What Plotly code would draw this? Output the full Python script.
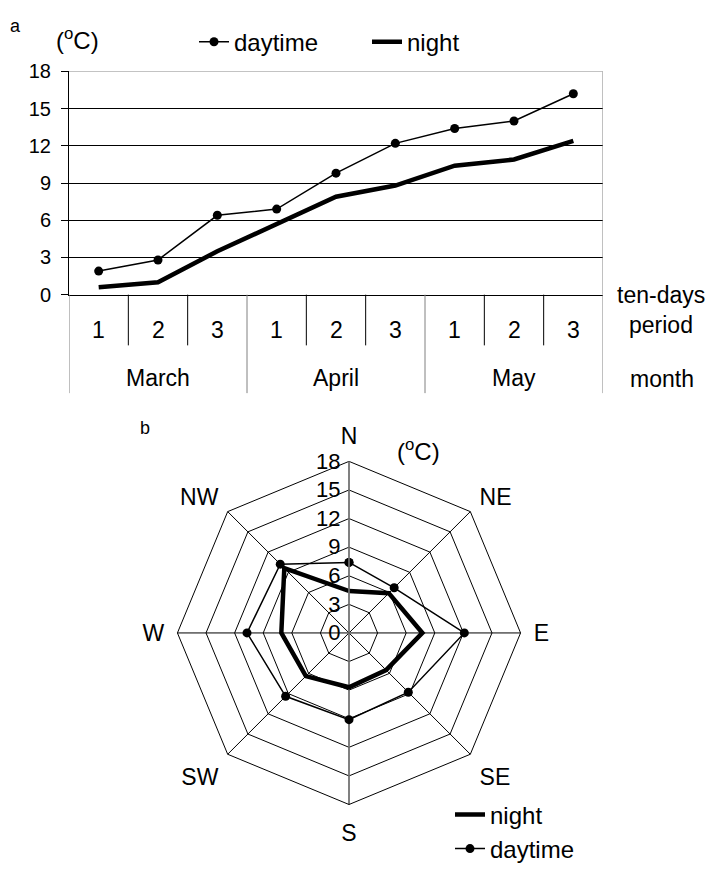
import plotly.graph_objects as go

W, H = 712, 874
FONT = "Arial, 'Liberation Sans', sans-serif"

# ---- data: panel a ----
months = ["March", "April", "May"]
periods = ["1", "2", "3", "1", "2", "3", "1", "2", "3"]
daytime = [1.9, 2.8, 6.4, 6.9, 9.8, 12.2, 13.4, 14.0, 16.2]
night = [0.6, 1.0, 3.5, 5.7, 7.9, 8.8, 10.4, 10.9, 12.4]
y_ticks = [0, 3, 6, 9, 12, 15, 18]

# ---- data: panel b ----
directions = ["N", "NE", "E", "SE", "S", "SW", "W", "NW"]
day_dir = [7.4, 6.7, 12.1, 8.8, 9.1, 9.4, 10.7, 10.2]
night_dir = [4.4, 5.9, 7.7, 5.5, 5.7, 6.4, 7.1, 9.6]
r_ticks = [0, 3, 6, 9, 12, 15, 18]


def py(p):
    return 1 - p / H


def px(p):
    return p / W


xpos = list(range(len(periods)))

fig = go.Figure()
fig.add_trace(go.Scatter(
    x=xpos, y=daytime, name="daytime", mode="lines+markers",
    line=dict(color="black", width=1.5), marker=dict(color="black", size=9),
    legend="legend"))
fig.add_trace(go.Scatter(
    x=xpos, y=night, name="night", mode="lines",
    line=dict(color="black", width=4.5), legend="legend"))

closed_dirs = directions + directions[:1]
fig.add_trace(go.Scatterpolar(
    r=[0, r_ticks[-1]], theta=["S", "S"], mode="lines",
    line=dict(color="#808080", width=1.5), showlegend=False, hoverinfo="skip"))
fig.add_trace(go.Scatterpolar(
    r=day_dir + day_dir[:1], theta=closed_dirs, name="daytime",
    mode="lines+markers", line=dict(color="black", width=1.5),
    marker=dict(color="black", size=9), legend="legend2"))
fig.add_trace(go.Scatterpolar(
    r=night_dir + night_dir[:1], theta=closed_dirs, name="night",
    mode="lines", line=dict(color="black", width=4.5), legend="legend2"))

n = len(periods)
fig.update_layout(
    width=W, height=H, margin=dict(l=0, r=0, t=0, b=0),
    paper_bgcolor="white", plot_bgcolor="white",
    font=dict(family=FONT, color="black", size=23),
    xaxis=dict(domain=[px(69), px(603)], range=[-0.5, n - 0.5],
               showticklabels=False, ticks="", showgrid=False, zeroline=False,
               showline=True, linecolor="black", linewidth=1),
    yaxis=dict(domain=[py(291), py(62)], range=[0, 18], tickvals=y_ticks,
               ticks="outside", ticklen=7, tickcolor="black",
               ticklabelstandoff=6,
               tickfont=dict(size=20), showgrid=True, gridcolor="black",
               gridwidth=1, zeroline=False, showline=True, linecolor="black",
               linewidth=1),
    legend=dict(orientation="h", x=px(194), xanchor="left", y=py(32),
                yanchor="middle", font=dict(size=24), entrywidth=128,
                bgcolor="rgba(0,0,0,0)"),
    legend2=dict(orientation="v", x=px(450), xanchor="left", y=py(842),
                 yanchor="middle", font=dict(size=24), traceorder="reversed",
                 bgcolor="rgba(0,0,0,0)"),
    polar=dict(
        domain=dict(x=[px(173), px(525)], y=[py(814), py(462)]),
        gridshape="linear", bgcolor="white",
        radialaxis=dict(range=[0, 18], tickvals=r_ticks, angle=90,
                        tickangle=90, side="counterclockwise",
                        showline=True, linecolor="#808080", linewidth=1.5,
                        gridcolor="black", gridwidth=1, ticks="",
                        tickfont=dict(size=22)),
        angularaxis=dict(direction="clockwise", rotation=90,
                         categoryarray=directions, categoryorder="array",
                         showline=True, linecolor="black", linewidth=1,
                         gridcolor="black", gridwidth=1,
                         ticks="outside", ticklen=8,
                         tickcolor="rgba(0,0,0,0)",
                         tickfont=dict(size=23)),
    ),
)

shapes = []
# grey top and right border of plot area a
shapes.append(dict(type="line", xref="x", yref="y", x0=-0.5, x1=n - 0.5,
                   y0=18, y1=18, line=dict(color="#808080", width=1)))
shapes.append(dict(type="line", xref="x", yref="y", x0=n - 0.5, x1=n - 0.5,
                   y0=0, y1=18, line=dict(color="#808080", width=1)))
# separators below the axis
for k in range(n + 1):
    xb = k - 0.5
    if k % 3 == 0:
        shapes.append(dict(type="line", xref="x", yref="paper", x0=xb, x1=xb,
                           y0=py(392), y1=py(291),
                           line=dict(color="#808080", width=1)))
    else:
        shapes.append(dict(type="line", xref="x", yref="paper", x0=xb, x1=xb,
                           y0=py(343), y1=py(291),
                           line=dict(color="black", width=1)))
fig.update_layout(shapes=shapes)

ann = []
for i, p in enumerate(periods):
    ann.append(dict(x=i, y=py(327), xref="x", yref="paper", text=p,
                    font=dict(size=23)))
for j, m in enumerate(months):
    ann.append(dict(x=3 * j + 1, y=py(376), xref="x", yref="paper", text=m,
                    font=dict(size=23)))
ann += [
    dict(x=px(15), y=py(15), text="a", font=dict(size=18)),
    dict(x=px(77), y=py(29), text="(<sup>o</sup>C)", font=dict(size=24)),
    dict(x=px(661), y=py(291), text="ten-days", font=dict(size=23)),
    dict(x=px(661), y=py(322), text="period", font=dict(size=23)),
    dict(x=px(662), y=py(377), text="month", font=dict(size=23)),
    dict(x=px(145), y=py(428), text="b", font=dict(size=18)),
    dict(x=px(418), y=py(450), text="(<sup>o</sup>C)", font=dict(size=24)),
]
for a in ann:
    a.setdefault("xref", "paper")
    a.setdefault("yref", "paper")
    a["showarrow"] = False
    a["xanchor"] = "center"
    a["yanchor"] = "middle"
fig.update_layout(annotations=ann)

fig.write_html("out.html")
